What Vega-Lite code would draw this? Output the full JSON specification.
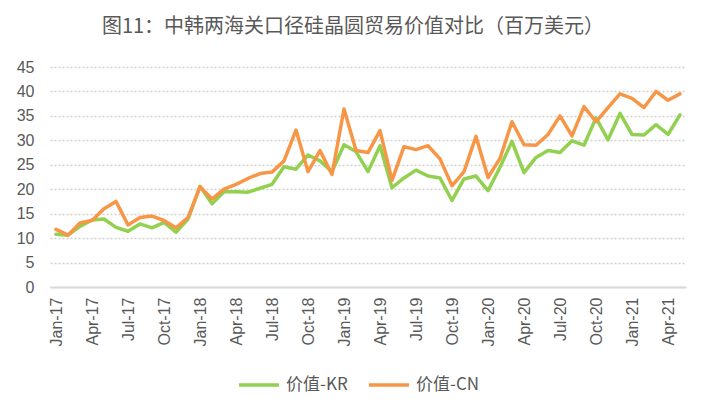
{
  "$schema": "https://vega.github.io/schema/vega-lite/v6.json",
  "autosize": {"type": "none"},
  "padding": {"left": 50, "top": 67, "right": 23, "bottom": 126},
  "width": 636,
  "height": 220,
  "background": "white",
  "title": {
    "text": "图11：中韩两海关口径硅晶圆贸易价值对比（百万美元）",
    "font": "Noto Sans CJK SC",
    "fontSize": 20,
    "fontWeight": "normal",
    "color": "#595959",
    "anchor": "middle",
    "dx": -15,
    "offset": 22
  },
  "config": {
    "view": {"stroke": null}
  },
  "data": {
    "values": [
      {"month": "Jan-17", "series": "价值-KR", "value": 10.8},
      {"month": "Feb-17", "series": "价值-KR", "value": 10.6},
      {"month": "Mar-17", "series": "价值-KR", "value": 12.4},
      {"month": "Apr-17", "series": "价值-KR", "value": 13.7},
      {"month": "May-17", "series": "价值-KR", "value": 13.9},
      {"month": "Jun-17", "series": "价值-KR", "value": 12.2},
      {"month": "Jul-17", "series": "价值-KR", "value": 11.4},
      {"month": "Aug-17", "series": "价值-KR", "value": 12.9},
      {"month": "Sep-17", "series": "价值-KR", "value": 12.1},
      {"month": "Oct-17", "series": "价值-KR", "value": 13.2},
      {"month": "Nov-17", "series": "价值-KR", "value": 11.2},
      {"month": "Dec-17", "series": "价值-KR", "value": 13.9},
      {"month": "Jan-18", "series": "价值-KR", "value": 20.6},
      {"month": "Feb-18", "series": "价值-KR", "value": 17.0},
      {"month": "Mar-18", "series": "价值-KR", "value": 19.5},
      {"month": "Apr-18", "series": "价值-KR", "value": 19.5},
      {"month": "May-18", "series": "价值-KR", "value": 19.4},
      {"month": "Jun-18", "series": "价值-KR", "value": 20.2},
      {"month": "Jul-18", "series": "价值-KR", "value": 21.0},
      {"month": "Aug-18", "series": "价值-KR", "value": 24.6},
      {"month": "Sep-18", "series": "价值-KR", "value": 24.1},
      {"month": "Oct-18", "series": "价值-KR", "value": 27.0},
      {"month": "Nov-18", "series": "价值-KR", "value": 25.8},
      {"month": "Dec-18", "series": "价值-KR", "value": 23.6},
      {"month": "Jan-19", "series": "价值-KR", "value": 29.1},
      {"month": "Feb-19", "series": "价值-KR", "value": 27.7},
      {"month": "Mar-19", "series": "价值-KR", "value": 23.6},
      {"month": "Apr-19", "series": "价值-KR", "value": 28.9},
      {"month": "May-19", "series": "价值-KR", "value": 20.3},
      {"month": "Jun-19", "series": "价值-KR", "value": 22.3},
      {"month": "Jul-19", "series": "价值-KR", "value": 23.9},
      {"month": "Aug-19", "series": "价值-KR", "value": 22.7},
      {"month": "Sep-19", "series": "价值-KR", "value": 22.3},
      {"month": "Oct-19", "series": "价值-KR", "value": 17.7},
      {"month": "Nov-19", "series": "价值-KR", "value": 22.1},
      {"month": "Dec-19", "series": "价值-KR", "value": 22.7},
      {"month": "Jan-20", "series": "价值-KR", "value": 19.7},
      {"month": "Feb-20", "series": "价值-KR", "value": 24.5},
      {"month": "Mar-20", "series": "价值-KR", "value": 29.8},
      {"month": "Apr-20", "series": "价值-KR", "value": 23.4},
      {"month": "May-20", "series": "价值-KR", "value": 26.5},
      {"month": "Jun-20", "series": "价值-KR", "value": 27.9},
      {"month": "Jul-20", "series": "价值-KR", "value": 27.5},
      {"month": "Aug-20", "series": "价值-KR", "value": 29.9},
      {"month": "Sep-20", "series": "价值-KR", "value": 29.0},
      {"month": "Oct-20", "series": "价值-KR", "value": 34.6},
      {"month": "Nov-20", "series": "价值-KR", "value": 30.1},
      {"month": "Dec-20", "series": "价值-KR", "value": 35.5},
      {"month": "Jan-21", "series": "价值-KR", "value": 31.2},
      {"month": "Feb-21", "series": "价值-KR", "value": 31.1},
      {"month": "Mar-21", "series": "价值-KR", "value": 33.2},
      {"month": "Apr-21", "series": "价值-KR", "value": 31.2},
      {"month": "May-21", "series": "价值-KR", "value": 35.2},
      {"month": "Jan-17", "series": "价值-CN", "value": 11.8},
      {"month": "Feb-17", "series": "价值-CN", "value": 10.6},
      {"month": "Mar-17", "series": "价值-CN", "value": 13.1},
      {"month": "Apr-17", "series": "价值-CN", "value": 13.6},
      {"month": "May-17", "series": "价值-CN", "value": 16.0},
      {"month": "Jun-17", "series": "价值-CN", "value": 17.5},
      {"month": "Jul-17", "series": "价值-CN", "value": 12.7},
      {"month": "Aug-17", "series": "价值-CN", "value": 14.2},
      {"month": "Sep-17", "series": "价值-CN", "value": 14.5},
      {"month": "Oct-17", "series": "价值-CN", "value": 13.6},
      {"month": "Nov-17", "series": "价值-CN", "value": 12.1},
      {"month": "Dec-17", "series": "价值-CN", "value": 14.2},
      {"month": "Jan-18", "series": "价值-CN", "value": 20.5},
      {"month": "Feb-18", "series": "价值-CN", "value": 18.0},
      {"month": "Mar-18", "series": "价值-CN", "value": 20.0},
      {"month": "Apr-18", "series": "价值-CN", "value": 21.0},
      {"month": "May-18", "series": "价值-CN", "value": 22.2},
      {"month": "Jun-18", "series": "价值-CN", "value": 23.2},
      {"month": "Jul-18", "series": "价值-CN", "value": 23.5},
      {"month": "Aug-18", "series": "价值-CN", "value": 25.8},
      {"month": "Sep-18", "series": "价值-CN", "value": 32.1},
      {"month": "Oct-18", "series": "价值-CN", "value": 23.6},
      {"month": "Nov-18", "series": "价值-CN", "value": 27.9},
      {"month": "Dec-18", "series": "价值-CN", "value": 23.0},
      {"month": "Jan-19", "series": "价值-CN", "value": 36.4},
      {"month": "Feb-19", "series": "价值-CN", "value": 27.9},
      {"month": "Mar-19", "series": "价值-CN", "value": 27.5},
      {"month": "Apr-19", "series": "价值-CN", "value": 32.0},
      {"month": "May-19", "series": "价值-CN", "value": 21.8},
      {"month": "Jun-19", "series": "价值-CN", "value": 28.7},
      {"month": "Jul-19", "series": "价值-CN", "value": 28.1},
      {"month": "Aug-19", "series": "价值-CN", "value": 28.9},
      {"month": "Sep-19", "series": "价值-CN", "value": 26.2},
      {"month": "Oct-19", "series": "价值-CN", "value": 20.7},
      {"month": "Nov-19", "series": "价值-CN", "value": 23.6},
      {"month": "Dec-19", "series": "价值-CN", "value": 30.8},
      {"month": "Jan-20", "series": "价值-CN", "value": 22.4},
      {"month": "Feb-20", "series": "价值-CN", "value": 26.3},
      {"month": "Mar-20", "series": "价值-CN", "value": 33.8},
      {"month": "Apr-20", "series": "价值-CN", "value": 29.1},
      {"month": "May-20", "series": "价值-CN", "value": 29.0},
      {"month": "Jun-20", "series": "价值-CN", "value": 31.2},
      {"month": "Jul-20", "series": "价值-CN", "value": 35.0},
      {"month": "Aug-20", "series": "价值-CN", "value": 30.9},
      {"month": "Sep-20", "series": "价值-CN", "value": 36.9},
      {"month": "Oct-20", "series": "价值-CN", "value": 33.8},
      {"month": "Nov-20", "series": "价值-CN", "value": 36.7},
      {"month": "Dec-20", "series": "价值-CN", "value": 39.5},
      {"month": "Jan-21", "series": "价值-CN", "value": 38.6},
      {"month": "Feb-21", "series": "价值-CN", "value": 36.7},
      {"month": "Mar-21", "series": "价值-CN", "value": 40.0},
      {"month": "Apr-21", "series": "价值-CN", "value": 38.2},
      {"month": "May-21", "series": "价值-CN", "value": 39.5}
    ]
  },
  "mark": {"type": "line", "strokeWidth": 3.5, "strokeJoin": "round", "strokeCap": "round"},
  "encoding": {
    "x": {
      "field": "month",
      "type": "ordinal",
      "sort": null,
      "scale": {"type": "point", "padding": 0.5},
      "title": null,
      "axis": {
        "values": ["Jan-17", "Apr-17", "Jul-17", "Oct-17", "Jan-18", "Apr-18", "Jul-18", "Oct-18", "Jan-19", "Apr-19", "Jul-19", "Oct-19", "Jan-20", "Apr-20", "Jul-20", "Oct-20", "Jan-21", "Apr-21"],
        "labelAngle": -90,
        "labelFont": "Liberation Sans",
        "labelFontSize": 16,
        "labelColor": "#595959",
        "labelPadding": 10,
        "ticks": false,
        "grid": false,
        "domainColor": "#d9d9d9",
        "domainWidth": 2
      }
    },
    "y": {
      "field": "value",
      "type": "quantitative",
      "title": null,
      "scale": {"domain": [0, 45], "nice": false},
      "axis": {
        "values": [0, 5, 10, 15, 20, 25, 30, 35, 40, 45],
        "labelFont": "Liberation Sans",
        "labelFontSize": 16,
        "labelColor": "#595959",
        "labelPadding": 16,
        "ticks": false,
        "domain": false,
        "grid": true,
        "gridColor": "#d0d0d0",
        "gridWidth": 1.3,
        "gridDash": [2, 2]
      }
    },
    "color": {
      "field": "series",
      "type": "nominal",
      "sort": ["价值-KR", "价值-CN"],
      "scale": {"domain": ["价值-KR", "价值-CN"], "range": ["#92D050", "#F79646"]},
      "legend": {
        "title": null,
        "orient": "none",
        "direction": "horizontal",
        "legendX": 187,
        "legendY": 296,
        "symbolType": "stroke",
        "symbolSize": 1600,
        "symbolStrokeWidth": 3.5,
        "labelFont": "Noto Sans CJK SC",
        "labelFontSize": 17,
        "labelColor": "#595959",
        "labelOffset": 5,
        "columnPadding": 14
      }
    }
  }
}
